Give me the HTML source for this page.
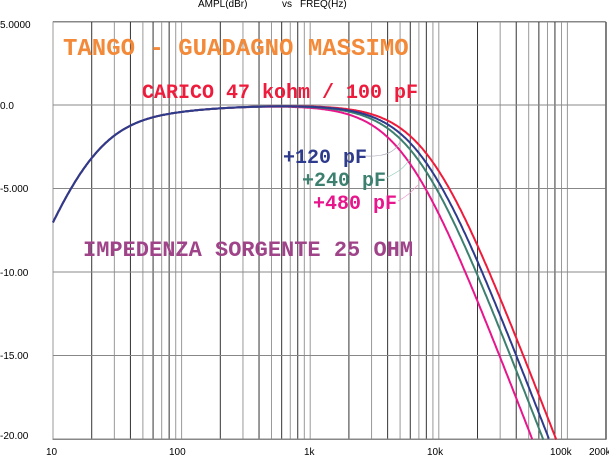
<!DOCTYPE html>
<html><head><meta charset="utf-8"><style>
html,body{margin:0;padding:0;background:#fff;width:609px;height:456px;overflow:hidden}
svg{display:block}
.ax{font-family:"Liberation Sans",sans-serif;font-size:10px;fill:#000}
.lb{font-family:"Liberation Mono",monospace;font-weight:bold}
</style></head><body>
<svg id="s" width="609" height="456" xmlns="http://www.w3.org/2000/svg">
<text class="ax" x="198" y="7">AMPL(dBr)</text>
<text class="ax" x="282" y="7">vs</text>
<text class="ax" x="300" y="7">FREQ(Hz)</text>
<g id="grid"></g>
<text class="ax" x="0" y="28">5.0000</text>
<text class="ax" x="0" y="109">0.0</text>
<text class="ax" x="0" y="192">-5.000</text>
<text class="ax" x="0" y="276">-10.00</text>
<text class="ax" x="0" y="359">-15.00</text>
<text class="ax" x="0" y="439">-20.00</text>
<text class="ax" x="46" y="455">10</text>
<text class="ax" x="169" y="455">100</text>
<text class="ax" x="304" y="455">1k</text>
<text class="ax" x="427" y="455">10k</text>
<text class="ax" x="550" y="455">100k</text>
<text class="ax" x="589" y="455">200k</text>
<g id="curves"></g>
<path d="M366,156 C385,157 395,152 400,142" stroke="#aab" stroke-width="0.7" fill="none"/>
<path d="M386,178 C398,172 405,168 410,158" stroke="#9cb" stroke-width="0.7" fill="none"/>
<path d="M398,201 C408,196 413,190 418,185" stroke="#e9c" stroke-width="0.7" fill="none"/>
<text class="lb" x="63" y="55" font-size="24" fill="#f28a3a">TANGO - GUADAGNO MASSIMO</text>
<text class="lb" x="142" y="98" font-size="20" fill="#ee1c3c">CARICO 47 kohm / 100 pF</text>
<text class="lb" x="283" y="163" font-size="20" fill="#2e3b8c">+120 pF</text>
<text class="lb" x="302" y="186" font-size="20" fill="#3d8070">+240 pF</text>
<text class="lb" x="313" y="209" font-size="20" fill="#e8168c">+480 pF</text>
<text class="lb" x="83" y="256" font-size="22" fill="#a0448a">IMPEDENZA SORGENTE 25 OHM</text>
</svg>
<script>
var L=53,R=605.7,D=128.6,T=22,B=439.5;
function X(f){return L+(Math.log10(f)-1)*D}
function Y(db){return 105-db*16.7}
var g='';
g+='<rect x="'+L+'" y="'+T+'" width="'+(R-L)+'" height="'+(B-T)+'" fill="none" stroke="#888" stroke-width="1"/>';
for(var d=10;d<=100000;d*=10){for(var k=1;k<10;k++){var f=d*k;if(f>200000)break;var x=X(f);
g+='<line x1="'+x+'" y1="'+T+'" x2="'+x+'" y2="'+B+'" stroke="'+(k%2?'#999':'#333')+'" stroke-width="1"/>';}}
for(var v=5;v>=-20;v-=5){var y=Y(v);g+='<line x1="'+L+'" y1="'+y+'" x2="'+R+'" y2="'+y+'" stroke="#888" stroke-width="1"/>';}
document.getElementById('grid').innerHTML=g;
function hpd(f){return -10*Math.log10(1+Math.pow(19/f,2))-0.4/(1+Math.pow(f/150,1.5));}
var cs=[[8200,'#ee1c3c'],[5350,'#e8168c'],[6500,'#3d8070'],[7230,'#2e3b8c']];
var c='';
cs.forEach(function(q){var p='';for(var i=0;i<=600;i++){var lf=1+i*(4.3/600);var f=Math.pow(10,lf);var db=hpd(f)-10*Math.log10(1+Math.pow(f/q[0],2));var y=Y(db);if(y>B+1)break;p+=(p?'L':'M')+X(f).toFixed(1)+','+y.toFixed(1);}
c+='<path d="'+p+'" stroke="'+q[1]+'" stroke-width="2" fill="none"/>';});
document.getElementById('curves').innerHTML=c;
</script>
</body></html>
